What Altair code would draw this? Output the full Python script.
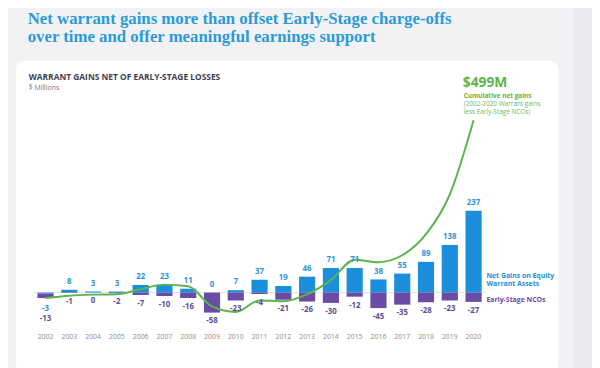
import altair as alt
import pandas as pd

years = [str(y) for y in range(2002, 2021)]
warrant_gains = [-3, 8, 3, 3, 22, 23, 11, 0, 7, 37, 19, 46, 71, 71, 38, 55, 89, 138, 237]
early_stage_ncos = [-13, -1, 0, -2, -7, -10, -16, -58, -23, -4, -21, -26, -30, -12, -45, -35, -28, -23, -27]
cumulative_net = [-16, -9, -6, -5, 10, 23, 18, -40, -56, -23, -25, -5, 36, 95, 88, 108, 169, 284, 499]

series_names = ["Net Gains on Equity Warrant Assets", "Early-Stage NCOs"]
BLUE = "#1b8fdc"
PURPLE = "#6a4ba6"
GREEN = "#5db44c"

rows = []
for i, y in enumerate(years):
    rows.append({"year": y, "series": series_names[0], "value": warrant_gains[i], "ord": 0})
    rows.append({"year": y, "series": series_names[1], "value": early_stage_ncos[i], "ord": 1})
bars_df = pd.DataFrame(rows)
wide_df = pd.DataFrame({"year": years, "w": warrant_gains, "n": early_stage_ncos, "cum": cumulative_net})
wide_df["bot"] = wide_df["w"].clip(upper=0) + wide_df["n"]
wide_df["wl"] = wide_df["w"].astype(str)
wide_df["nl"] = wide_df["n"].astype(str)

yscale = alt.Scale(domain=[-88.6, 597.1], nice=False, zero=False)
xscale = alt.Scale(paddingInner=0.32, paddingOuter=0.16)
X = alt.X("year:O", scale=xscale,
          axis=alt.Axis(title=None, labelAngle=0, ticks=False, domain=False, grid=False,
                        labelColor="#8c8c8c", labelFontSize=7, labelFont="Open Sans",
                        labelPadding=10, zindex=2))

one = pd.DataFrame({"a": [1]})

card = alt.Chart(one).mark_rect(x=-18, x2=532, y=-26, y2=290, cornerRadius=9).encode(
    color=alt.value("white"))
strip = alt.Chart(one).mark_rect(x=547, x2=570, y=-90, y2=290).encode(color=alt.value("#e9e9ee"))

zero_df = pd.DataFrame({"zero": [0]})
zero_rule = alt.Chart(zero_df).mark_rule(color="#dfe3ea", strokeWidth=1).encode(
    y=alt.Y("zero:Q", scale=yscale, axis=None))

bars = alt.Chart(bars_df).mark_bar().encode(
    x=X,
    y=alt.Y("value:Q", scale=yscale, stack="zero", axis=None),
    color=alt.Color("series:N", scale=alt.Scale(domain=series_names, range=[BLUE, PURPLE]), legend=None),
    order=alt.Order("ord:Q"),
)

line = alt.Chart(wide_df).mark_line(color=GREEN, strokeWidth=2, interpolate="monotone").encode(
    x=X, y=alt.Y("cum:Q", scale=yscale, axis=None))

lab_font = "Open Sans"
LBLUE = "#2f93d6"
LPURP = "#5e4f92"
blue_pos = alt.Chart(wide_df).transform_filter("datum.w >= 0").mark_text(
    color=LBLUE, fontSize=8, fontWeight="bold", font=lab_font, baseline="bottom", dy=-4).encode(
    x=X, y=alt.Y("w:Q", scale=yscale, axis=None), text="wl:N")
blue_neg = alt.Chart(wide_df).transform_filter("datum.w < 0").mark_text(
    color=LBLUE, fontSize=8, fontWeight="bold", font=lab_font, baseline="top", dy=7).encode(
    x=X, y=alt.Y("bot:Q", scale=yscale, axis=None), text="wl:N")
purple_a = alt.Chart(wide_df).transform_filter("datum.w >= 0").mark_text(
    color=LPURP, fontSize=8, fontWeight="bold", font=lab_font, baseline="top", dy=5).encode(
    x=X, y=alt.Y("n:Q", scale=yscale, axis=None), text="nl:N")
purple_b = alt.Chart(wide_df).transform_filter("datum.w < 0").mark_text(
    color=LPURP, fontSize=8, fontWeight="bold", font=lab_font, baseline="top", dy=17).encode(
    x=X, y=alt.Y("bot:Q", scale=yscale, axis=None), text="nl:N")


def note(txt, x, y, size, color, weight="normal", font="Open Sans"):
    return alt.Chart(one).mark_text(align="left", baseline="alphabetic", fontSize=size,
                                    fontWeight=weight, font=font, x=x, y=y, text=txt).encode(
        color=alt.value(color))


TITLE_BLUE = "#2a9bd7"
TFONT = "Liberation Serif"
notes = [
    note("Net warrant gains more than offset Early-Stage charge-offs", -6, -63, 17, TITLE_BLUE, "bold", TFONT),
    note("over time and offer meaningful earnings support", -6, -45, 17, TITLE_BLUE, "bold", TFONT),
    note("WARRANT GAINS NET OF EARLY-STAGE LOSSES", -5, -6, 8.5, "#3d4350", "bold"),
    note("$ Millions", -5, 4, 7, "#7a7a7a"),
    note("$499M", 435, 1, 14, GREEN, "bold"),
    note("Cumulative net gains", 436, 12, 6.5, GREEN, "bold"),
    note("(2002-2020 Warrant gains", 436, 20, 6.5, "#6cbd5c"),
    note("less Early-Stage NCOs)", 436, 28, 6.5, "#6cbd5c"),
    note("Net Gains on Equity", 459, 194, 7, BLUE, "bold"),
    note("Warrant Assets", 459, 202, 7, BLUE, "bold"),
    note("Early-Stage NCOs", 459, 219, 7, PURPLE, "bold"),
]

chart = alt.layer(card, strip, zero_rule, bars, line, blue_pos, blue_neg, purple_a, purple_b, *notes).properties(
    width=458, height=240,
    autosize=alt.AutoSizeParams(type="none"),
    padding={"left": 26, "top": 77, "right": 108, "bottom": 43},
    background="#f2f2f4",
).configure_view(stroke=None)

chart.save("out.html", embed_options={"renderer": "svg", "actions": False})
